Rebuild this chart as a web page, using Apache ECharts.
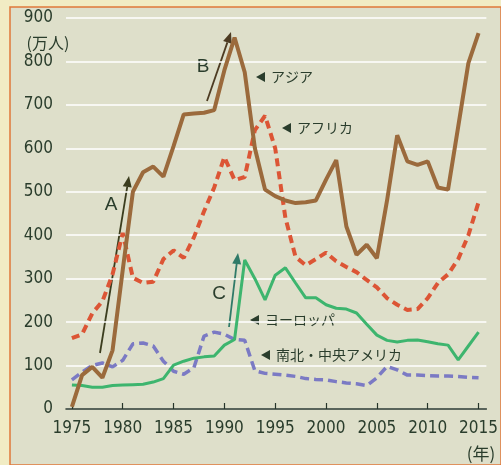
<!DOCTYPE html>
<html>
<head>
<meta charset="utf-8">
<script src="https://cdn.jsdelivr.net/npm/echarts@6/dist/echarts.min.js"></script>
<style>
  html, body { margin: 0; padding: 0; background: #f1ecc4; }
  #chart { width: 501px; height: 465px; }
</style>
</head>
<body>
<div id="chart"></div>
<script>
var years = [1975, 1976, 1977, 1978, 1979, 1980, 1981, 1982, 1983, 1984,
    1985, 1986, 1987, 1988, 1989, 1990, 1991, 1992, 1993, 1994,
    1995, 1996, 1997, 1998, 1999, 2000, 2001, 2002, 2003, 2004,
    2005, 2006, 2007, 2008, 2009, 2010, 2011, 2012, 2013, 2014, 2015];

// 万人
var asia = [5, 78, 97, 72, 135, 320, 500, 545, 558, 535,
    605, 678, 680, 682, 688, 780, 855, 775, 600, 505,
    490, 480, 474, 476, 480, 528, 573, 420, 355, 378,
    347, 480, 630, 570, 562, 570, 510, 505, 650, 796, 865];
var africa = [163, 172, 220, 248, 310, 405, 302, 290, 293, 345,
    365, 348, 395, 455, 510, 580, 527, 534, 642, 675,
    600, 440, 350, 331, 345, 360, 340, 327, 315, 297,
    280, 255, 240, 228, 230, 255, 290, 310, 345, 400, 476];
var europe = [55, 54, 50, 50, 54, 55, 56, 57, 62, 70,
    101, 110, 117, 120, 122, 147, 160, 343, 300, 251,
    308, 325, 290, 256, 256, 240, 232, 230, 221, 195,
    170, 158, 154, 158, 159, 155, 150, 147, 113, 145, 177];
var americas = [67, 85, 100, 106, 97, 112, 150, 152, 145, 110,
    87, 80, 95, 168, 177, 172, 160, 158, 88, 82,
    80, 78, 75, 70, 68, 67, 63, 60, 58, 54,
    72, 98, 90, 78, 78, 77, 76, 76, 75, 73, 72];

var xTicks = [1975, 1980, 1985, 1990, 1995, 2000, 2005, 2010, 2015];

var textColor = '#2a3d2c';
var numFont = '"DejaVu Sans Condensed", "Liberation Sans", sans-serif';
var jpFont = '"Noto Sans CJK JP", sans-serif';

function pairs(vals) {
    return years.map(function (y, i) { return [y, vals[i]]; });
}

// 矢印 (線 + 三角)
function arrow(x1, y1, x2, y2, color) {
    var a = Math.atan2(y2 - y1, x2 - x1),
        len = 11, hw = 4.5;
    var bx = x2 - len * Math.cos(a), by = y2 - len * Math.sin(a);
    var px = -Math.sin(a) * hw, py = Math.cos(a) * hw;
    return [{
        type: 'line', silent: true,
        shape: { x1: x1, y1: y1, x2: bx, y2: by },
        style: { stroke: color, lineWidth: 1.8 }
    }, {
        type: 'polygon', silent: true,
        shape: { points: [[x2, y2], [bx + px, by + py], [bx - px, by - py]] },
        style: { fill: color }
    }];
}

function tag(x, y, label) {
    return [{
        type: 'polygon', silent: true,
        shape: { points: [[x, y], [x + 9, y - 5], [x + 9, y + 5]] },
        style: { fill: textColor }
    }, {
        type: 'text', silent: true, x: x + 15, y: y,
        style: { text: label, fill: textColor, font: '14px ' + jpFont, verticalAlign: 'middle' }
    }];
}

function letter(x, y, s) {
    return {
        type: 'text', silent: true, x: x, y: y,
        style: { text: s, fill: textColor, font: '19px "Liberation Sans", sans-serif',
            align: 'center', verticalAlign: 'middle' }
    };
}

var graphics = [{
    type: 'rect', silent: true, z: -100,
    shape: { x: 10, y: 7, width: 491, height: 458 },
    style: { fill: '#dedfca', stroke: '#e0783a', lineWidth: 1.5 }
}, {
    type: 'text', silent: true, x: 48, y: 43,
    style: { text: '(万人)', fill: textColor, font: '16px ' + jpFont, align: 'center', verticalAlign: 'middle' }
}, {
    type: 'text', silent: true, x: 481, y: 454,
    style: { text: '(年)', fill: textColor, font: '17px ' + jpFont, align: 'center', verticalAlign: 'middle' }
},
    letter(111, 205, 'A'), letter(203, 67, 'B'), letter(219, 294, 'C')
].concat(
    arrow(100, 353, 129, 176, '#3b3d1e'),
    arrow(207, 101, 231, 32, '#4d3b22'),
    arrow(229, 327, 238, 253, '#2f7a68'),
    tag(256, 77, 'アジア'),
    tag(282, 128, 'アフリカ'),
    tag(250, 320, 'ヨーロッパ'),
    tag(261, 355, '南北・中央アメリカ')
);

var myChart = echarts.init(document.getElementById('chart'));
var option = {
    backgroundColor: '#f1ecc4',
    animation: false,
    grid: { left: 66, right: 8, top: 18, bottom: 56 },
    xAxis: {
        type: 'value',
        min: 1974.42,
        max: 2015.77,
        axisLine: { lineStyle: { color: '#26352a', width: 1.5 } },
        axisTick: { inside: true, length: 6, customValues: xTicks, lineStyle: { color: '#26352a', width: 1.2 } },
        axisLabel: {
            customValues: xTicks,
            color: textColor, fontFamily: numFont, fontSize: 17, margin: 11,
            formatter: function (v) { return String(v); }
        },
        splitLine: { show: false }
    },
    yAxis: {
        type: 'value',
        min: 0, max: 900, interval: 100,
        axisLine: { show: false },
        axisTick: { show: false },
        axisLabel: { color: textColor, fontFamily: numFont, fontSize: 17, margin: 13, padding: [8, 0, 0, 0] },
        splitLine: { lineStyle: { color: '#ffffff', width: 1.5 } }
    },
    series: [{
        name: '南北・中央アメリカ', type: 'line', showSymbol: false, z: 2,
        data: pairs(americas),
        lineStyle: { color: '#7b7ac4', width: 3.5, type: [9, 5] }
    }, {
        name: 'ヨーロッパ', type: 'line', showSymbol: false, z: 3,
        data: pairs(europe),
        lineStyle: { color: '#3db56e', width: 3 }
    }, {
        name: 'アフリカ', type: 'line', showSymbol: false, z: 4,
        data: pairs(africa),
        lineStyle: { color: '#dc5535', width: 4, type: [8, 5] }
    }, {
        name: 'アジア', type: 'line', showSymbol: false, z: 5,
        data: pairs(asia),
        lineStyle: { color: '#9b6a3c', width: 4 }
    }],
    graphic: graphics
};
myChart.setOption(option);
</script>
</body>
</html>
